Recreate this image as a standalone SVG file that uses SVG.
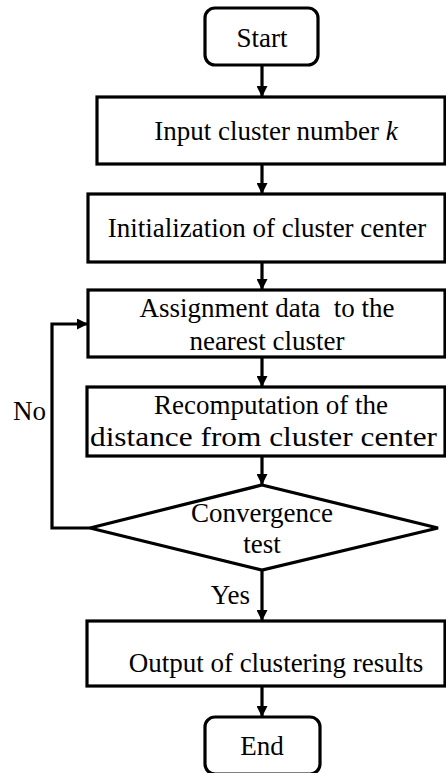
<svg xmlns="http://www.w3.org/2000/svg" width="446" height="773" viewBox="0 0 446 773">
<defs>
<marker id="ah" markerUnits="userSpaceOnUse" markerWidth="11" markerHeight="11" refX="10" refY="5.5" orient="auto">
<path d="M0,0 L11,5.5 L0,11 Z" fill="#000"/>
</marker>
<style>
.box{fill:#fff;stroke:#000;stroke-width:3.2}
.t{font-family:"Liberation Serif","Times New Roman",serif;font-size:27px;fill:#000;text-anchor:middle}
.c{fill:none;stroke:#000;stroke-width:3.2}
</style>
</defs>
<rect width="446" height="773" fill="#fff"/>
<g id="connectors">
<line class="c" x1="262" y1="65" x2="262" y2="96" marker-end="url(#ah)"/>
<line class="c" x1="262" y1="164" x2="262" y2="193" marker-end="url(#ah)"/>
<line class="c" x1="262" y1="262" x2="262" y2="289" marker-end="url(#ah)"/>
<line class="c" x1="262" y1="357" x2="262" y2="386" marker-end="url(#ah)"/>
<line class="c" x1="262" y1="456" x2="262" y2="484" marker-end="url(#ah)"/>
<line class="c" x1="262" y1="570" x2="262" y2="620" marker-end="url(#ah)"/>
<line class="c" x1="262" y1="686" x2="262" y2="716" marker-end="url(#ah)"/>
<polyline class="c" points="90,528 52,528 52,324 87,324" marker-end="url(#ah)"/>
<text class="t" x="13" y="420" style="text-anchor:start">No</text>
<text class="t" x="250" y="604" style="text-anchor:end">Yes</text>
</g>
<g id="start">
<rect class="box" x="205" y="8" width="113" height="57" rx="10"/>
<text class="t" x="262" y="47">Start</text>
</g>
<g id="input">
<rect class="box" x="97" y="97" width="348" height="67"/>
<text class="t" x="276" y="140">Input cluster number <tspan font-style="italic">k</tspan></text>
</g>
<g id="init">
<rect class="box" x="88" y="194" width="357" height="68"/>
<text class="t" x="267" y="237">Initialization of cluster center</text>
</g>
<g id="assign">
<rect class="box" x="88" y="290" width="357" height="67"/>
<text class="t" x="267" y="317" xml:space="preserve">Assignment data  to the</text>
<text class="t" x="267" y="350">nearest cluster</text>
</g>
<g id="recomp">
<rect class="box" x="87" y="387" width="358" height="69"/>
<text class="t" x="271" y="414">Recomputation of the</text>
<text class="t" x="90" y="446" style="text-anchor:start" textLength="347" lengthAdjust="spacingAndGlyphs">distance from cluster center</text>
</g>
<g id="test">
<polygon class="box" points="262,485 438,528 262,570 90,528"/>
<text class="t" x="262" y="522">Convergence</text>
<text class="t" x="262" y="553">test</text>
</g>
<g id="output">
<rect class="box" x="87" y="621" width="358" height="65"/>
<text class="t" x="276" y="672">Output of clustering results</text>
</g>
<g id="end">
<rect class="box" x="205" y="717" width="115" height="57" rx="10"/>
<text class="t" x="262" y="755">End</text>
</g>
</svg>
